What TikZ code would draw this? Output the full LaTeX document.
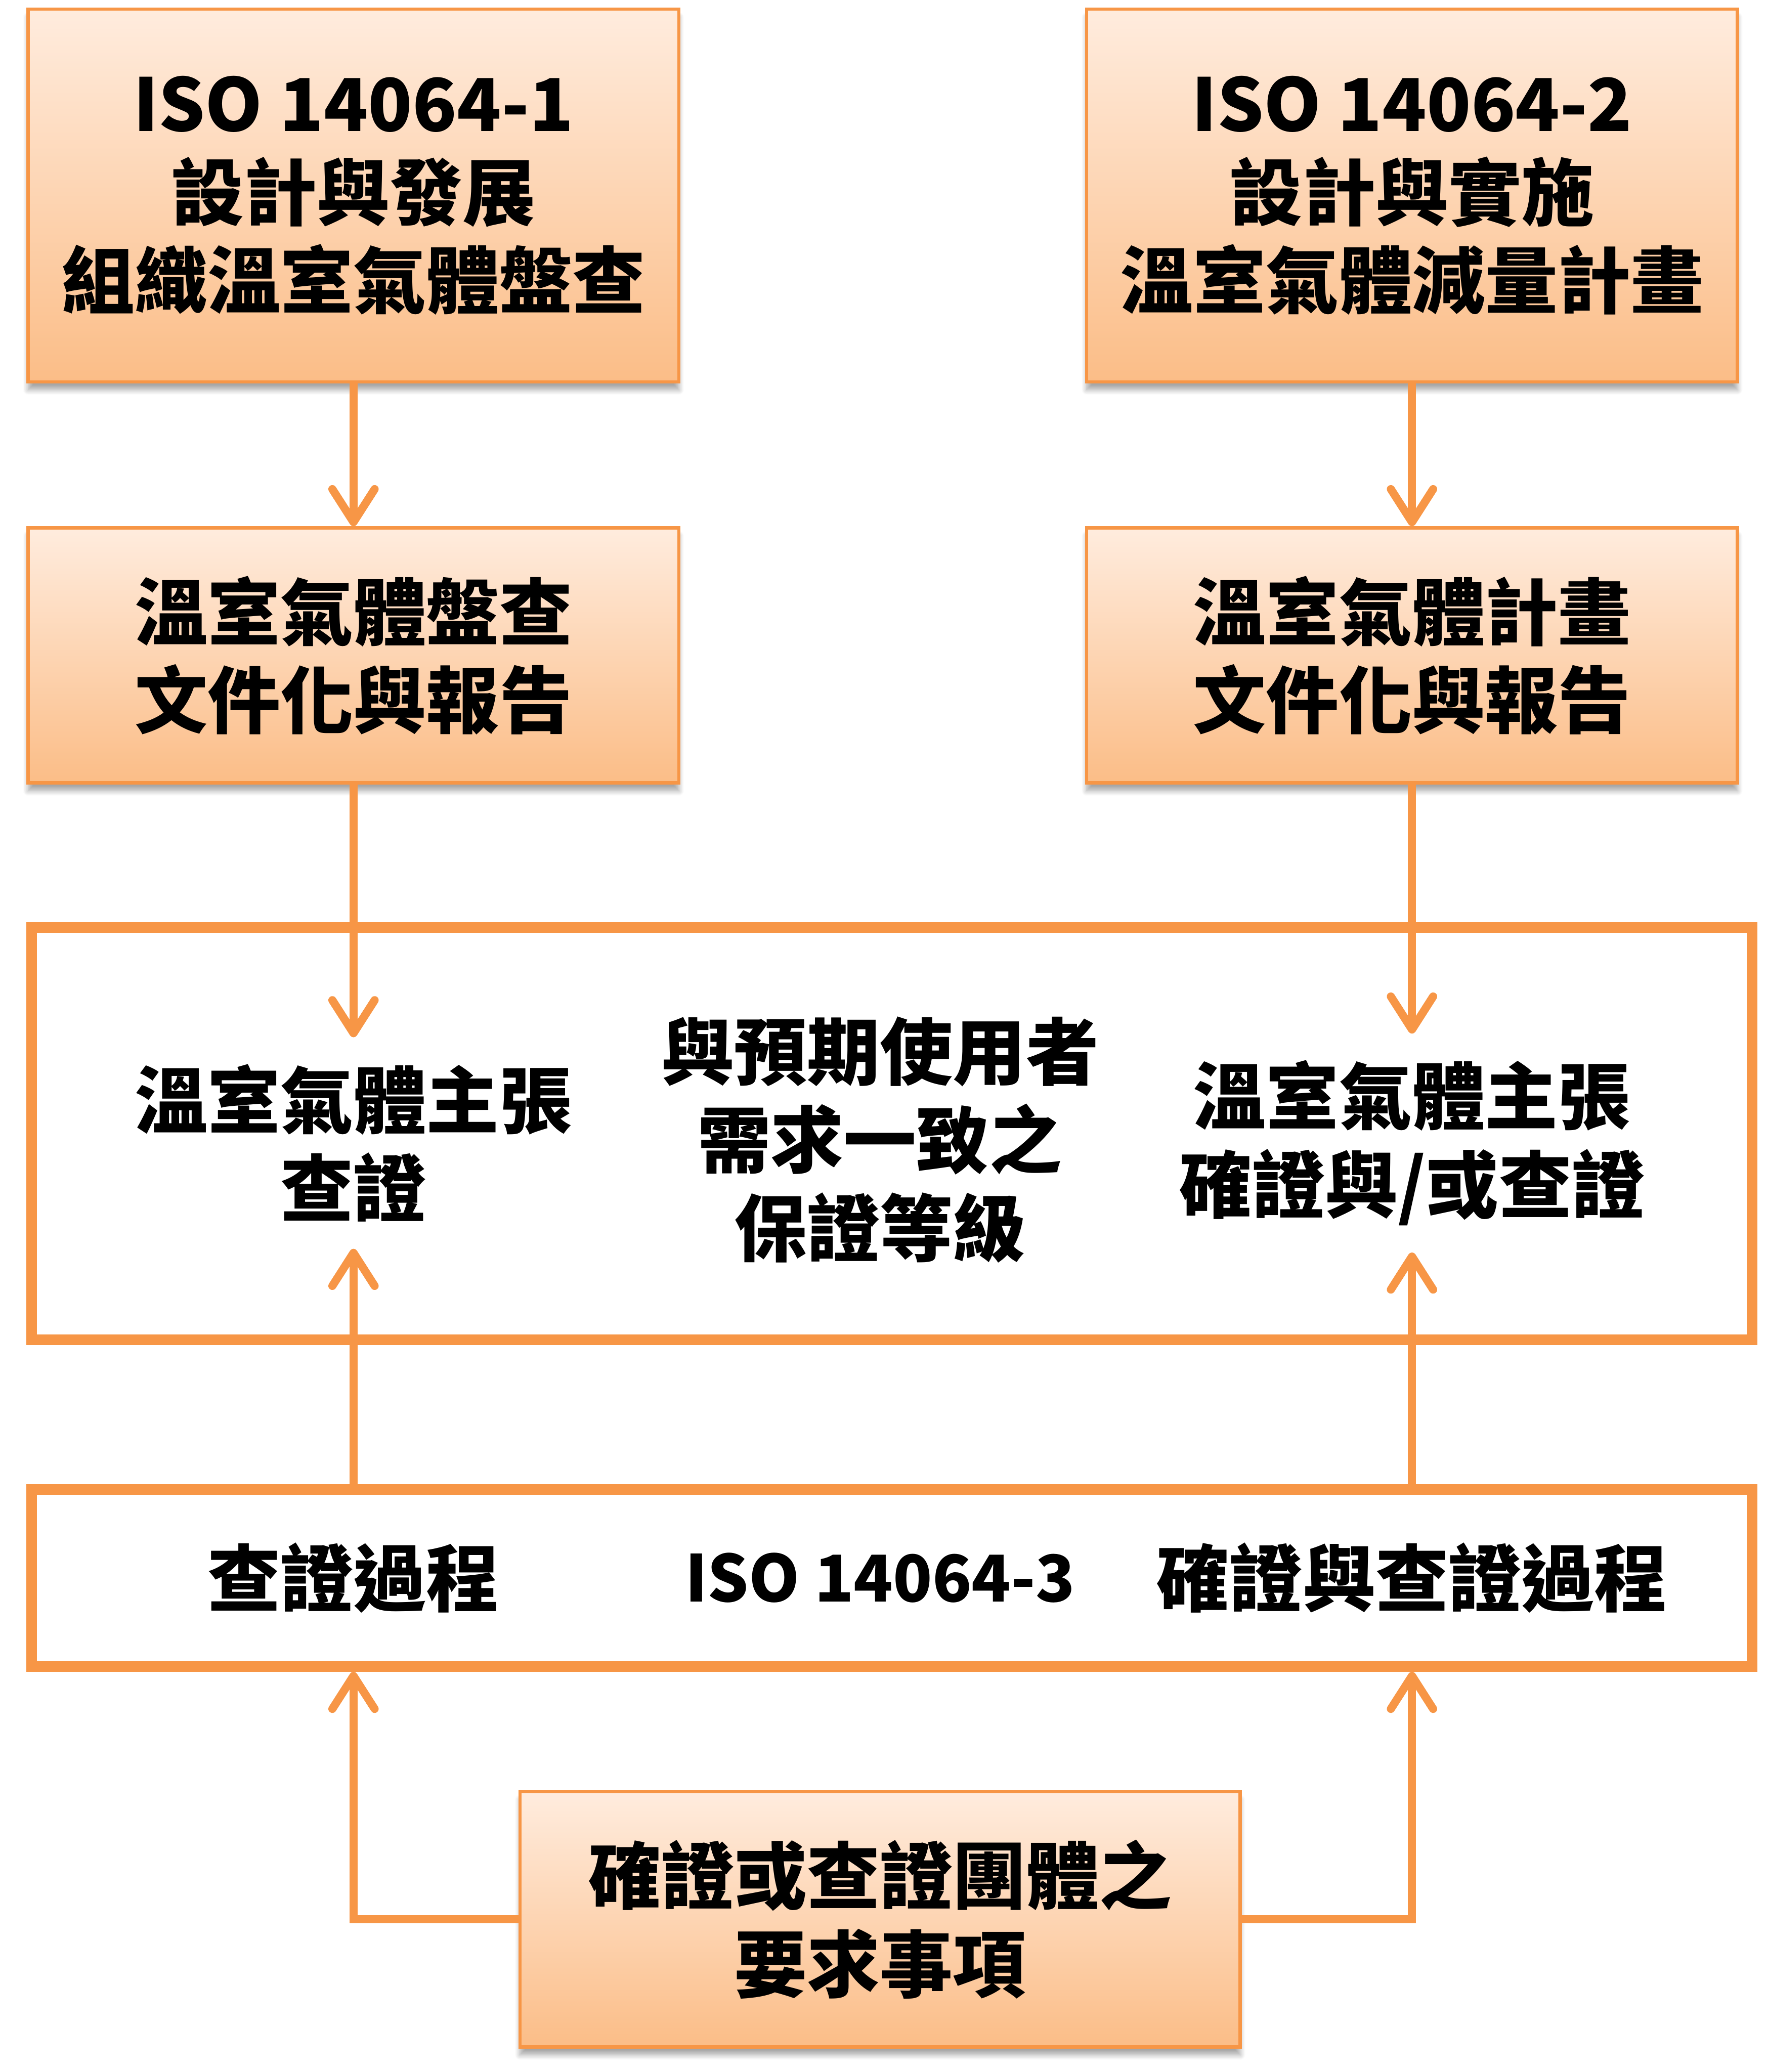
\documentclass[tikz,border=0pt]{standalone}
\usepackage{fontspec}
\setmainfont{Noto Sans CJK TC}
\usepackage{tikz}
\usetikzlibrary{arrows.meta, positioning, shadows.blur}
\definecolor{accentorange}{RGB}{247,150,70}
\definecolor{peachtop}{RGB}{255,236,222}
\definecolor{peachbot}{RGB}{251,189,135}

\begin{document}
\begin{tikzpicture}[
    box/.style={rectangle, align=center, font=\fontsize{31.4}{38}\bfseries\selectfont},
    gradbox/.style={box, draw=accentorange, line width=1.4pt, top color=peachtop, bottom color=peachbot,
        minimum width=9.85cm, blur shadow={shadow xshift=0pt, shadow yshift=-0.12cm, shadow blur steps=8, shadow opacity=35}},
    framebox/.style={box, draw=accentorange, line width=4.6pt, fill=white, minimum width=26.04cm},
    txt/.style={box, inner sep=0.4cm},
    arrow/.style={draw=accentorange, line width=3.5pt, -{Straight Barb[length=0.5cm, width=0.64cm, round]}}
]
    \useasboundingbox (0,0) rectangle (26.74,-31.36);

    \node[gradbox, minimum height=5.64cm] (iso1) at (5.35,-2.96) {ISO 14064-1\\設計與發展\\組織溫室氣體盤查};
    \node[gradbox, minimum height=5.64cm] (iso2) at (21.37,-2.96) {ISO 14064-2\\設計與實施\\溫室氣體減量計畫};
    \node[gradbox, minimum height=3.86cm, below=2.16cm of iso1] (invrep) {溫室氣體盤查\\文件化與報告};
    \node[gradbox, minimum height=3.86cm, below=2.16cm of iso2] (planrep) {溫室氣體計畫\\文件化與報告};

    \node[framebox, minimum height=6.24cm] (claimbox) at (13.5,-17.16) {};
    \node[txt] (verL) at (5.35,-17.3) {溫室氣體主張\\查證};
    \node[box] (assur) at (13.32,-17.25) {與預期使用者\\需求一致之\\保證等級};
    \node[txt] (valR) at (21.37,-17.3) {溫室氣體主張\\確證與/或查證};

    \node[framebox, minimum height=2.68cm, below=2.1cm of claimbox] (procbox) {};
    \node[box] (procL) at (procbox.center -| iso1) {查證過程};
    \node[box, font=\fontsize{27.8}{34}\bfseries\selectfont] (isothree) at (procbox.center -| assur) {ISO 14064-3};
    \node[box] (procR) at (procbox.center -| iso2) {確證與查證過程};

    \node[gradbox, minimum width=10.9cm, minimum height=3.86cm] (reqbox) at (13.32,-29.05) {確證或查證團體之\\要求事項};

    \draw[arrow] (iso1) -- (invrep);
    \draw[arrow] (iso2) -- (planrep);
    \draw[arrow] (invrep) -- (verL);
    \draw[arrow] (planrep) -- (valR);
    \draw[arrow] (procbox.north -| verL) -- (verL);
    \draw[arrow] (procbox.north -| valR) -- (valR);
    \draw[arrow] (reqbox.west) -| (procbox.south -| procL);
    \draw[arrow] (reqbox.east) -| (procbox.south -| procR);
\end{tikzpicture}
\end{document}
